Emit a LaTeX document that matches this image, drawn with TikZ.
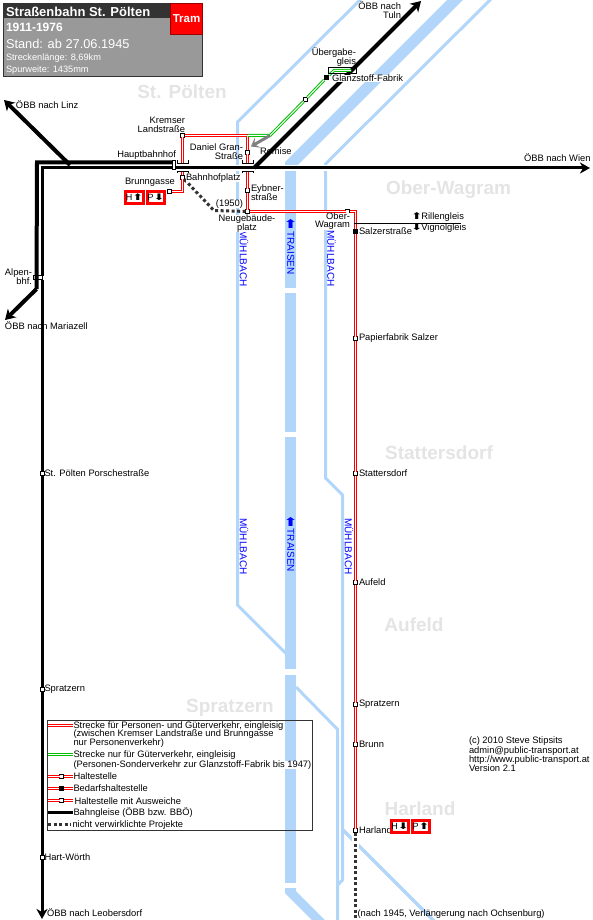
\documentclass[tikz,border=0pt]{standalone}
\usepackage{fontspec}
\setmainfont{Liberation Sans}
\newfontfamily\arrowfont{DejaVu Sans}
\usepackage{xcolor}
\usepackage{graphicx}
\usetikzlibrary{arrows.meta}
\definecolor{water}{HTML}{B2D6FA}
\definecolor{placegray}{HTML}{E4E4E4}
\definecolor{darkbar}{HTML}{333333}
\definecolor{bodygray}{HTML}{999999}
\definecolor{goods}{HTML}{00C000}
\newcommand{\lblsize}{\fontsize{9.35pt}{8.8pt}\selectfont}
\newcommand{\upmark}{{\arrowfont\scalebox{1.45}[1]{⬆}}}
\newcommand{\downmark}{{\arrowfont\scalebox{1.45}[1]{⬇}}}

\begin{document}
\begin{tikzpicture}[
  x=1pt,y=-1pt,
  every node/.style={font=\lblsize,inner sep=0pt,outer sep=0pt},
  river/.style={draw=water,line width=11pt},
  brook/.style={draw=water,line width=3pt,miter limit=20},
  rail/.style={draw=black,line width=3pt},
  railheavy/.style={draw=black,line width=4pt},
  railtip/.style={rail,-{Stealth[length=10pt,width=11pt,inset=3pt]}},
  heavytip/.style={railheavy,-{Stealth[length=10pt,width=12pt,inset=3pt]}},
  passenger/.style={draw=white,line width=1pt,preaction={draw=red,line width=3pt}},
  goodsline/.style={draw=white,line width=1pt,preaction={draw=goods,line width=3pt}},
  depot/.style={draw=black!50,line width=3pt,-{Stealth[length=8pt,width=12pt,inset=4pt]}},
  unbuilt/.style={draw=darkbar,line width=3pt,dash pattern=on 3pt off 2.5pt},
  bridge/.style={draw=black,line width=1pt},
  halt/.style={rectangle,draw=black,fill=white,line width=1pt,minimum size=4pt},
  request/.style={rectangle,fill=black,minimum size=5pt},
  loopstop/.style={halt,path picture={\fill (path picture bounding box.center) circle (1.1pt);}},
  bigstation/.style={rectangle,draw=black,fill=white,line width=1pt},
  place/.style={font=\fontsize{19pt}{19pt}\selectfont\bfseries,text=placegray},
  brooklabel/.style={rotate=-90,text=blue,font=\fontsize{10pt}{10pt}\selectfont},
  dirbox/.style={rectangle,draw=red,fill=white,line width=3pt,minimum width=17pt,minimum height=12pt,
                 font=\fontsize{9pt}{9pt}\selectfont}
]
\path[use as bounding box,clip] (0,0) rectangle (593,920);

% region names
\node[place] (stpoelten) at (182,91.5) {St. Pölten};
\node[place] (oberwagramplace) at (448.5,190) {Ober-Wagram};
\node[place] (stattersdorfplace) at (439,453) {Stattersdorf};
\node[place] (aufeldplace) at (414,625) {Aufeld};
\node[place] (spratzernplace) at (230,708) {Spratzern};
\node[place] (harlandplace) at (420,809) {Harland};

% rivers
\draw[river] (290.5,170) -- (290.5,164.5) -- (470,-15);
\draw[river] (290.5,170) -- (290.5,288);
\draw[river] (290.5,293) -- (290.5,432);
\draw[river] (290.5,437) -- (290.5,669);
\draw[river] (290.5,675) -- (290.5,883);
\fill[water] (285,888) -- (296,888) -- (296,891) -- (329,924) -- (316,924) -- (285,893) -- cycle;
\draw[brook] (375,-15) -- (237.5,122) -- (237.5,605) -- (287,654.5);
\draw[brook] (505,-15) -- (325.5,164) -- (325.5,478) -- (342.5,495) -- (342.5,880) -- (337.7,885);
\draw[brook] (296,687) -- (337.7,729.5) -- (337.7,925);
\draw[draw=water,line width=3.5pt] (343,830) -- (440,927);
\draw[white,line width=6pt] (180,168) -- (593,168);
\draw[white,line width=7pt] (355.5,835) -- (355.5,925);

\node[brooklabel] (muehlA) at (244,258.5) {MÜHLBACH};
\node[brooklabel] (muehlB) at (331.5,258.5) {MÜHLBACH};
\node[brooklabel] (muehlC) at (244,546.5) {MÜHLBACH};
\node[brooklabel] (muehlD) at (349,546.5) {MÜHLBACH};
\node[brooklabel] (traisenA) at (290.7,253) {TRAISEN};
\node[brooklabel] (traisenB) at (290.7,550.5) {TRAISEN};
\node[text=blue,font=\fontsize{12pt}{12pt}\selectfont] (flowA) at (290.7,224) {\upmark};
\node[text=blue,font=\fontsize{12pt}{12pt}\selectfont] (flowB) at (290.7,522) {\upmark};

% title block
\node[rectangle,draw=darkbar,fill=bodygray,line width=1pt,minimum width=199pt,minimum height=73pt,
      anchor=north west] (header) at (3.5,3.5) {};
\node[rectangle,fill=darkbar,minimum width=199pt,minimum height=15pt,anchor=north west] (titlebar) at (3.5,3.5) {};
\node[rectangle,draw=red!60!black,fill=red,line width=1pt,minimum width=32pt,minimum height=31pt,
      anchor=north east,text=white,font=\fontsize{11.5pt}{11.5pt}\selectfont\bfseries] (tram) at (202.5,3.5) {Tram};
\node[anchor=west,text=white,font=\fontsize{13pt}{13pt}\selectfont\bfseries] (title) at (6,11.5) {Straßenbahn St. Pölten};
\node[anchor=west,text=white,font=\fontsize{12pt}{12pt}\selectfont\bfseries] (years) at (6,27) {1911-1976};
\node[anchor=west,text=white,font=\fontsize{12.8pt}{12.8pt}\selectfont] (stand) at (6,43.5) {Stand: ab 27.06.1945};
\node[anchor=west,text=white,font=\fontsize{9.2pt}{9.2pt}\selectfont] (length) at (6,58) {Streckenlänge: 8,69km};
\node[anchor=west,text=white,font=\fontsize{9.2pt}{9.2pt}\selectfont] (gauge) at (6,70) {Spurweite: 1435mm};

% junctions and line ends
\coordinate (linzEnd) at (4,100);
\coordinate (linzStart) at (70,165);
\coordinate (cornerA) at (37,162.5);
\coordinate (cornerB) at (42,168);
\coordinate (mariazellStart) at (36.5,289);
\coordinate (mariazellEnd) at (5,320);
\coordinate (leobersdorfEnd) at (42,919);
\coordinate (wienEnd) at (590,168);
\coordinate (tulnStart) at (254,168);
\coordinate (tulnEnd) at (421,1);
\coordinate (kremserBridge) at (182.5,163);
\coordinate (bahnhofBridge) at (182.5,171);
\coordinate (brunnCorner) at (182.5,191.5);
\coordinate (danielCorner) at (247.5,135.5);
\coordinate (danielBridge) at (247.5,163);
\coordinate (eybnerBridge) at (247.5,171);
\coordinate (oberCorner) at (355.5,211.5);
\coordinate (goodsBend) at (270,135.5);
\coordinate (transferA) at (334,70.5);
\coordinate (transferB) at (351,70.5);
\coordinate (remiseEnd) at (251,146.5);
\coordinate (unbuiltBend) at (214,210.5);
\coordinate (ochsenburgEnd) at (355.5,920);

% stations
\node[bigstation,minimum width=9pt,minimum height=4pt] (alpenbhf) at (38,277.5) {};
\node[bigstation,minimum width=3pt,minimum height=9pt] (hauptbf) at (174,165) {};
\node[halt] (porsche) at (42,473.5) {};
\node[halt] (spratzernW) at (42,689.5) {};
\node[halt] (hartwoerth) at (42,857.5) {};
\node[halt] (kremser) at (182.5,135.5) {};
\node[halt] (bahnhofplatz) at (182.5,177.5) {};
\node[loopstop] (brunngasse) at (169.5,191.5) {};
\node[halt] (daniel) at (247.5,152.5) {};
\node[loopstop] (eybner) at (247.5,190.5) {};
\node[halt] (neugebaeude) at (247.5,211.5) {};
\node[halt] (oberwagram) at (347.5,211.5) {};
\node[request] (salzerstr) at (355.5,231.5) {};
\node[loopstop] (papierfabrik) at (355.5,338.5) {};
\node[halt] (stattersdorf) at (355.5,473.5) {};
\node[halt] (aufeld) at (355.5,582.5) {};
\node[halt] (spratzernE) at (355.5,704.5) {};
\node[halt] (brunn) at (355.5,744.5) {};
\node[loopstop] (harland) at (355.5,830.5) {};
\node[loopstop] (goodsmid) at (305.5,99.5) {};
\node[request] (glanzstoff) at (326.5,77.5) {};

% railway lines
\draw[heavytip] (linzStart) -- (linzEnd);
\draw[railheavy] (hauptbf.west |- cornerA) -- (cornerA) -- (mariazellStart);
\draw[heavytip] (mariazellStart) -- (mariazellEnd);
\draw[rail] (hauptbf.west |- cornerB) -- (cornerB) -- (cornerB |- alpenbhf.north);
\draw[rail] (cornerB |- alpenbhf.south) -- (porsche);
\draw[rail] (porsche) -- (spratzernW);
\draw[rail] (spratzernW) -- (hartwoerth);
\draw[railtip] (hartwoerth) -- (leobersdorfEnd);
\draw[railtip] (hauptbf.east |- cornerB) -- (wienEnd);
\draw[heavytip] (tulnStart) -- (tulnEnd);

% tram lines
\draw[passenger] (brunngasse) -- (brunnCorner) -- (bahnhofplatz);
\draw[passenger] (bahnhofplatz) -- (bahnhofBridge);
\draw[passenger] (kremserBridge) -- (kremser);
\draw[passenger] (kremser) -- (danielCorner) -- (daniel);
\draw[passenger] (daniel) -- (danielBridge);
\draw[passenger] (eybnerBridge) -- (eybner);
\draw[passenger] (eybner) -- (neugebaeude);
\draw[passenger] (neugebaeude) -- (oberwagram);
\draw[passenger] (oberwagram) -- (oberCorner) -- (salzerstr);
\draw[passenger] (salzerstr) -- (papierfabrik);
\draw[passenger] (papierfabrik) -- (stattersdorf);
\draw[passenger] (stattersdorf) -- (aufeld);
\draw[passenger] (aufeld) -- (spratzernE);
\draw[passenger] (spratzernE) -- (brunn);
\draw[passenger] (brunn) -- (harland);
\draw[goodsline] (danielCorner) -- (goodsBend) -- (goodsmid);
\draw[goodsline] (goodsmid) -- (glanzstoff);
\draw[goodsline] (glanzstoff) -- (transferA) -- (transferB);
\draw[depot] (goodsBend) -- (remiseEnd);
\draw[unbuilt] (bahnhofplatz) -- (unbuiltBend) -- (neugebaeude);
\draw[unbuilt] (harland) -- (ochsenburgEnd);

% bridges
\draw[bridge] (177,160.5) -- (177,163.5) -- (188,163.5) -- (188,160.5);
\draw[bridge] (177,173.5) -- (177,171.5) -- (188,171.5) -- (188,173.5);
\draw[bridge] (242,160.5) -- (242,163.5) -- (253,163.5) -- (253,160.5);
\draw[bridge] (242,173.5) -- (242,171.5) -- (253,171.5) -- (253,173.5);
\node[rectangle,draw=black,line width=1pt,minimum width=28pt,minimum height=6pt] (transferbox) at (342.5,70.5) {};

% labels
\node[anchor=west] (linzLbl) at (16,105) {ÖBB nach Linz};
\node[anchor=west] (mariazellLbl) at (5,325.5) {ÖBB nach Mariazell};
\node[anchor=east,align=right] (alpenLbl) at (32,276.5) {Alpen-\\bhf.};
\node[anchor=west] (leobersdorfLbl) at (47,913) {ÖBB nach Leobersdorf};
\node[anchor=west] (porscheLbl) at (44.5,473) {St. Pölten Porschestraße};
\node[anchor=west] (spratzernWLbl) at (44.5,689) {Spratzern};
\node[anchor=west] (hartLbl) at (44.5,857) {Hart-Wörth};
\node[anchor=west] (wienLbl) at (524,158) {ÖBB nach Wien};
\node[anchor=east,align=right] (tulnLbl) at (401,10) {ÖBB nach\\Tuln};
\node[anchor=east,align=right] (uebergabeLbl) at (356,57) {Übergabe-\\gleis};
\node[anchor=west,fill=white] (glanzstoffLbl) at (332,78.5) {Glanzstoff-Fabrik};
\node[anchor=east] (hauptbfLbl) at (176,155) {Hauptbahnhof};
\node[anchor=east,align=right] (kremserLbl) at (185,125) {Kremser\\Landstraße};
\node[anchor=east,align=right] (danielLbl) at (243,152) {Daniel Gran-\\Straße};
\node[anchor=west] (remiseLbl) at (260,151.5) {Remise};
\node[anchor=west,fill=white] (bahnhofLbl) at (186,178) {Bahnhofplatz};
\node[anchor=west] (brunnLbl) at (125,182.5) {Brunngasse};
\node[anchor=west,align=left] (eybnerLbl) at (251,192.5) {Eybner-\\straße};
\node[anchor=east,fill=white] (jahrLbl) at (243,204) {(1950)};
\node[align=center,fill=white] (neugebaeudeLbl) at (247,223.5) {Neugebäude-\\platz};
\node[anchor=east,align=right,fill=white,font=\fontsize{9.35pt}{8pt}\selectfont] (oberLbl) at (350,221.5) {Ober-\\Wagram};
\node[anchor=west] (salzerLbl) at (359,231.5) {Salzerstraße};
\node[anchor=west] (papierLbl) at (359,338.5) {Papierfabrik Salzer};
\node[anchor=west] (stattersdorfLbl) at (359,473.5) {Stattersdorf};
\node[anchor=west] (aufeldLbl) at (359,582.5) {Aufeld};
\node[anchor=west] (spratzernELbl) at (359,704.5) {Spratzern};
\node[anchor=west] (brunnHLbl) at (359,744.5) {Brunn};
\node[anchor=west] (harlandLbl) at (359,830.5) {Harland};
\node[anchor=west] (ochsenburgLbl) at (357.5,914) {(nach 1945, Verlängerung nach Ochsenburg)};
\node[anchor=west] (rillenLbl) at (411,216.5) {\upmark\hspace{-1pt}Rillengleis};
\node[anchor=west] (vignolLbl) at (411,228.5) {\downmark\hspace{-1pt}Vignolgleis};
\coordinate (gaugeA) at (354,223.5);
\coordinate (gaugeB) at (461,223.5);
\draw[line width=1pt] (gaugeA) -- (gaugeB);
\node[anchor=north west,align=left,font=\fontsize{9.35pt}{9.3pt}\selectfont] (credits) at (469,737)
  {(c) 2010 Steve Stipsits\\admin@public-transport.at\\http://www.public-transport.at\\Version 2.1};

% direction boxes
\node[dirbox,anchor=center] (brunnH) at (134.5,197) {H\upmark};
\node[dirbox,anchor=center] (brunnP) at (156,197) {P\downmark};
\node[dirbox,anchor=center] (harlandH) at (400,826.5) {H\downmark};
\node[dirbox,anchor=center] (harlandP) at (421,826.5) {P\upmark};

% legend
\node[rectangle,draw=darkbar,line width=1pt,minimum width=265pt,minimum height=110.5pt,anchor=north west] (legend) at (47,720) {};
\coordinate (legRedA) at (48,725.5);
\coordinate (legRedB) at (73,725.5);
\coordinate (legGreenA) at (48,754.5);
\coordinate (legGreenB) at (73,754.5);
\coordinate (legHaltA) at (48,776.5);
\coordinate (legHaltB) at (73,776.5);
\coordinate (legReqA) at (48,788.5);
\coordinate (legReqB) at (73,788.5);
\coordinate (legLoopA) at (48,800.5);
\coordinate (legLoopB) at (73,800.5);
\coordinate (legRailA) at (48,812.5);
\coordinate (legRailB) at (73,812.5);
\coordinate (legPlanA) at (48,824.5);
\coordinate (legPlanB) at (71,824.5);
\node[halt] (legHalt) at (61.5,776.5) {};
\node[request] (legReq) at (61.5,788.5) {};
\node[loopstop] (legLoop) at (61.5,800.5) {};
\draw[passenger] (legRedA) -- (legRedB);
\draw[goodsline] (legGreenA) -- (legGreenB);
\draw[passenger] (legHaltA) -- (legHalt);
\draw[passenger] (legHalt) -- (legHaltB);
\draw[passenger] (legReqA) -- (legReq);
\draw[passenger] (legReq) -- (legReqB);
\draw[passenger] (legLoopA) -- (legLoop);
\draw[passenger] (legLoop) -- (legLoopB);
\draw[rail] (legRailA) -- (legRailB);
\draw[unbuilt] (legPlanA) -- (legPlanB);
\node[anchor=west,align=left] (legTextA) at (73.5,734.5)
  {Strecke für Personen- und Güterverkehr, eingleisig\\(zwischen Kremser Landstraße und Brunngasse\\nur Personenverkehr)};
\node[anchor=west] (legTextB) at (73.5,755) {Strecke nur für Güterverkehr, eingleisig};
\node[anchor=west,fill=white] (legTextC) at (73.5,765) {(Personen-Sonderverkehr zur Glanzstoff-Fabrik bis 1947)};
\node[anchor=west] (legTextD) at (73.5,776) {Haltestelle};
\node[anchor=west] (legTextE) at (73.5,788.5) {Bedarfshaltestelle};
\node[anchor=west] (legTextF) at (74.5,801) {Haltestelle mit Ausweiche};
\node[anchor=west] (legTextG) at (73.5,812.5) {Bahngleise (ÖBB bzw. BBÖ)};
\node[anchor=west] (legTextH) at (72.5,825) {nicht verwirklichte Projekte};
\end{tikzpicture}
\end{document}
